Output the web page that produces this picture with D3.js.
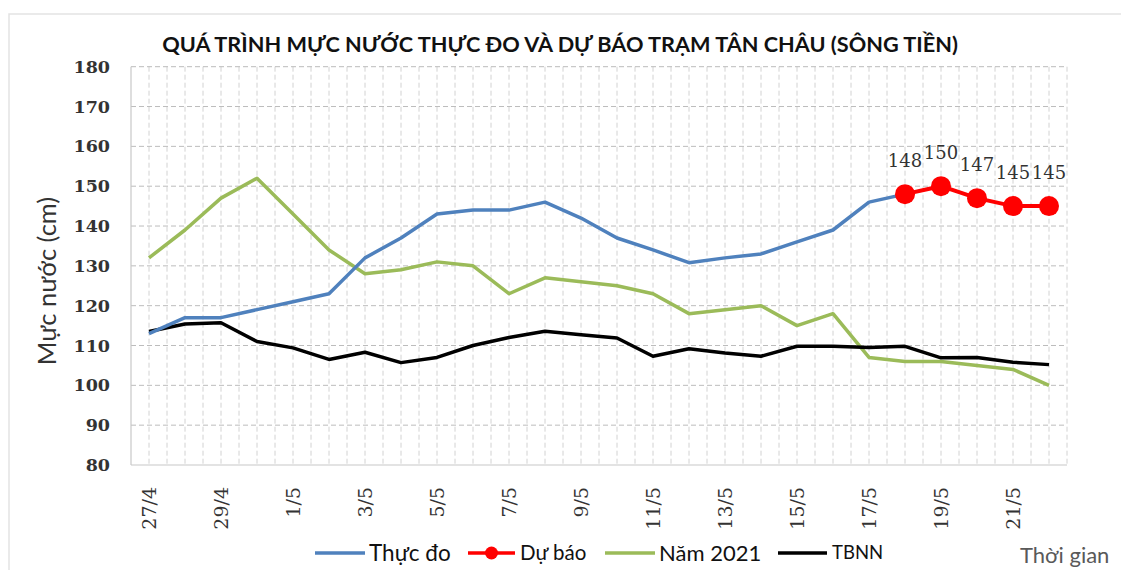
<!DOCTYPE html>
<html>
<head>
<meta charset="utf-8">
<script src="https://cdn.jsdelivr.net/npm/d3@7"></script>
<style>
  html, body { margin: 0; padding: 0; background: #fff; }
  svg { display: block; }
</style>
</head>
<body>
<svg id="chart" width="1121" height="570"></svg>
<script>
// ---- Data ----
const categories = ["27/4","28/4","29/4","30/4","1/5","2/5","3/5","4/5","5/5","6/5","7/5","8/5","9/5",
  "10/5","11/5","12/5","13/5","14/5","15/5","16/5","17/5","18/5","19/5","20/5","21/5","22/5"];
const thucDo = [113,117,117,119,121,123,132,137,143,144,144,146,142,137,134,130.8,132,133,136,139,146,148,
  null,null,null,null];
const duBao = [null,null,null,null,null,null,null,null,null,null,null,null,null,null,null,null,null,null,null,null,null,
  148,150,147,145,145];
const nam2021 = [132,139,147,152,143,134,128,129,131,130,123,127,126,125,123,118,119,120,115,118,107,106,106,105,104,100];
const tbnn = [113.5,115.4,115.7,111,109.4,106.5,108.3,105.7,107,110,112,113.6,112.7,111.9,107.3,109.2,108.1,107.3,109.8,109.8,109.5,109.8,106.9,107,105.8,105.2];
const yTicks = [80,90,100,110,120,130,140,150,160,170,180];
const xTickLabels = ["27/4","29/4","1/5","3/5","5/5","7/5","9/5","11/5","13/5","15/5","17/5","19/5","21/5"];

const titleText = "QUÁ TRÌNH MỰC NƯỚC THỰC ĐO VÀ DỰ BÁO TRẠM TÂN CHÂU (SÔNG TIỀN)";
const yTitle = "Mực nước (cm)";
const xTitle = "Thời gian";

// ---- Layout ----
const svg = d3.select("#chart");
const L = 131, R = 1067, T = 66.7, B = 465;
const sans = "Lato, 'Open Sans', sans-serif";
const serif = "'DejaVu Serif', serif";

svg.append("rect").attr("x", 9).attr("y", 14).attr("width", 1130).attr("height", 580)
  .attr("fill", "#fff").attr("stroke", "#e3e3e3").attr("stroke-width", 1.5);

const x = d3.scaleBand().domain(categories).range([L, R]).paddingInner(0).paddingOuter(0);
const y = d3.scaleLinear().domain([80, 180]).range([B, T]);
const cx = d => x(d) + x.bandwidth() / 2;

// vertical gridlines (band edges & centers)
const g = svg.append("g");
const vlines = [];
categories.forEach(c => { vlines.push(x(c)); vlines.push(cx(c)); });
vlines.push(R);
g.selectAll("line.v").data(vlines.slice(1)).join("line")
  .attr("x1", d => d).attr("x2", d => d).attr("y1", T).attr("y2", B)
  .attr("stroke", "#d2d2d2").attr("stroke-width", 1).attr("stroke-dasharray", "5,3");
// horizontal gridlines
g.selectAll("line.h").data(yTicks.filter(v => v > 80)).join("line")
  .attr("x1", L).attr("x2", R).attr("y1", d => y(d)).attr("y2", d => y(d))
  .attr("stroke", "#bcbcbc").attr("stroke-width", 1).attr("stroke-dasharray", "5,3");
// axis lines
g.append("line").attr("x1", L).attr("x2", L).attr("y1", T).attr("y2", B).attr("stroke", "#c8c8c8").attr("stroke-width", 1.2);
g.append("line").attr("x1", L).attr("x2", R).attr("y1", B).attr("y2", B).attr("stroke", "#c8c8c8").attr("stroke-width", 1.2);

// Y axis
const yAxis = d3.axisLeft(y).tickValues(yTicks).tickSize(0).tickPadding(21);
const yg = svg.append("g").attr("transform", `translate(${L},0)`).call(yAxis);
yg.select(".domain").remove();
yg.selectAll("text").attr("font-family", serif).attr("font-weight", "bold").attr("font-size", 17.5).attr("fill", "#333");

// X axis
const xAxis = d3.axisBottom(x).tickValues(xTickLabels.map(l => l)).tickSize(0);
const xg = svg.append("g").attr("transform", `translate(0,${B})`).call(xAxis);
xg.select(".domain").remove();
xg.selectAll("text")
  .attr("font-family", serif).attr("font-size", 19).attr("fill", "#333")
  .attr("transform", "rotate(-90)")
  .attr("text-anchor", "end")
  .attr("x", -22).attr("y", 0).attr("dy", "0.36em");

// Lines
const line = d3.line().defined(d => d.v != null).x(d => cx(d.c)).y(d => y(d.v));
const mk = arr => categories.map((c, i) => ({ c, v: arr[i] }));
svg.append("path").datum(mk(nam2021)).attr("d", line).attr("fill", "none").attr("stroke", "#9BBB59").attr("stroke-width", 3.5).attr("stroke-linejoin", "round");
svg.append("path").datum(mk(tbnn)).attr("d", line).attr("fill", "none").attr("stroke", "#000").attr("stroke-width", 3.5).attr("stroke-linejoin", "round");
svg.append("path").datum(mk(thucDo)).attr("d", line).attr("fill", "none").attr("stroke", "#4F81BD").attr("stroke-width", 3.5).attr("stroke-linejoin", "round");
const fc = mk(duBao).filter(d => d.v != null);
svg.append("path").datum(fc).attr("d", line).attr("fill", "none").attr("stroke", "#FF0000").attr("stroke-width", 4);
svg.selectAll("circle.fc").data(fc).join("circle")
  .attr("cx", d => cx(d.c)).attr("cy", d => y(d.v)).attr("r", 10).attr("fill", "#FF0000");
svg.selectAll("text.lbl").data(fc).join("text")
  .attr("x", d => cx(d.c)).attr("y", d => y(d.v) - 27)
  .attr("text-anchor", "middle").attr("font-family", serif).attr("font-size", 18).attr("fill", "#333")
  .text(d => d.v);

// Title
svg.append("text").attr("x", 560).attr("y", 52).attr("text-anchor", "middle")
  .attr("font-family", sans).attr("font-weight", "bold").attr("font-size", 21.7).attr("fill", "#111")
  .text(titleText);

// Y title
svg.append("text").attr("transform", "translate(56,281) rotate(-90)").attr("text-anchor", "middle")
  .attr("font-family", sans).attr("font-size", 25.5).attr("fill", "#333").text(yTitle);

// Legend
const legendY = 553;
const items = [
  { name: "Thực đo", color: "#4F81BD", x0: 315, x1: 365, tx: 369, size: 22.5, marker: false },
  { name: "Dự báo", color: "#FF0000", x0: 468, x1: 515, tx: 520, size: 20.5, marker: true },
  { name: "Năm 2021", color: "#9BBB59", x0: 605, x1: 655, tx: 659, size: 22, marker: false },
  { name: "TBNN", color: "#000000", x0: 778, x1: 827, tx: 832, size: 18.5, marker: false }
];
const lg = svg.append("g");
items.forEach(it => {
  lg.append("line").attr("x1", it.x0).attr("x2", it.x1).attr("y1", legendY).attr("y2", legendY)
    .attr("stroke", it.color).attr("stroke-width", 3.5);
  if (it.marker) lg.append("circle").attr("cx", (it.x0 + it.x1) / 2).attr("cy", legendY).attr("r", 6.5).attr("fill", it.color);
  lg.append("text").attr("x", it.tx).attr("y", legendY).attr("dy", "0.35em")
    .attr("font-family", sans).attr("font-size", it.size).attr("fill", "#111").text(it.name);
});
svg.append("text").attr("x", 1020).attr("y", 563)
  .attr("font-family", sans).attr("font-size", 22).attr("fill", "#595959").text(xTitle);
</script>
</body>
</html>
